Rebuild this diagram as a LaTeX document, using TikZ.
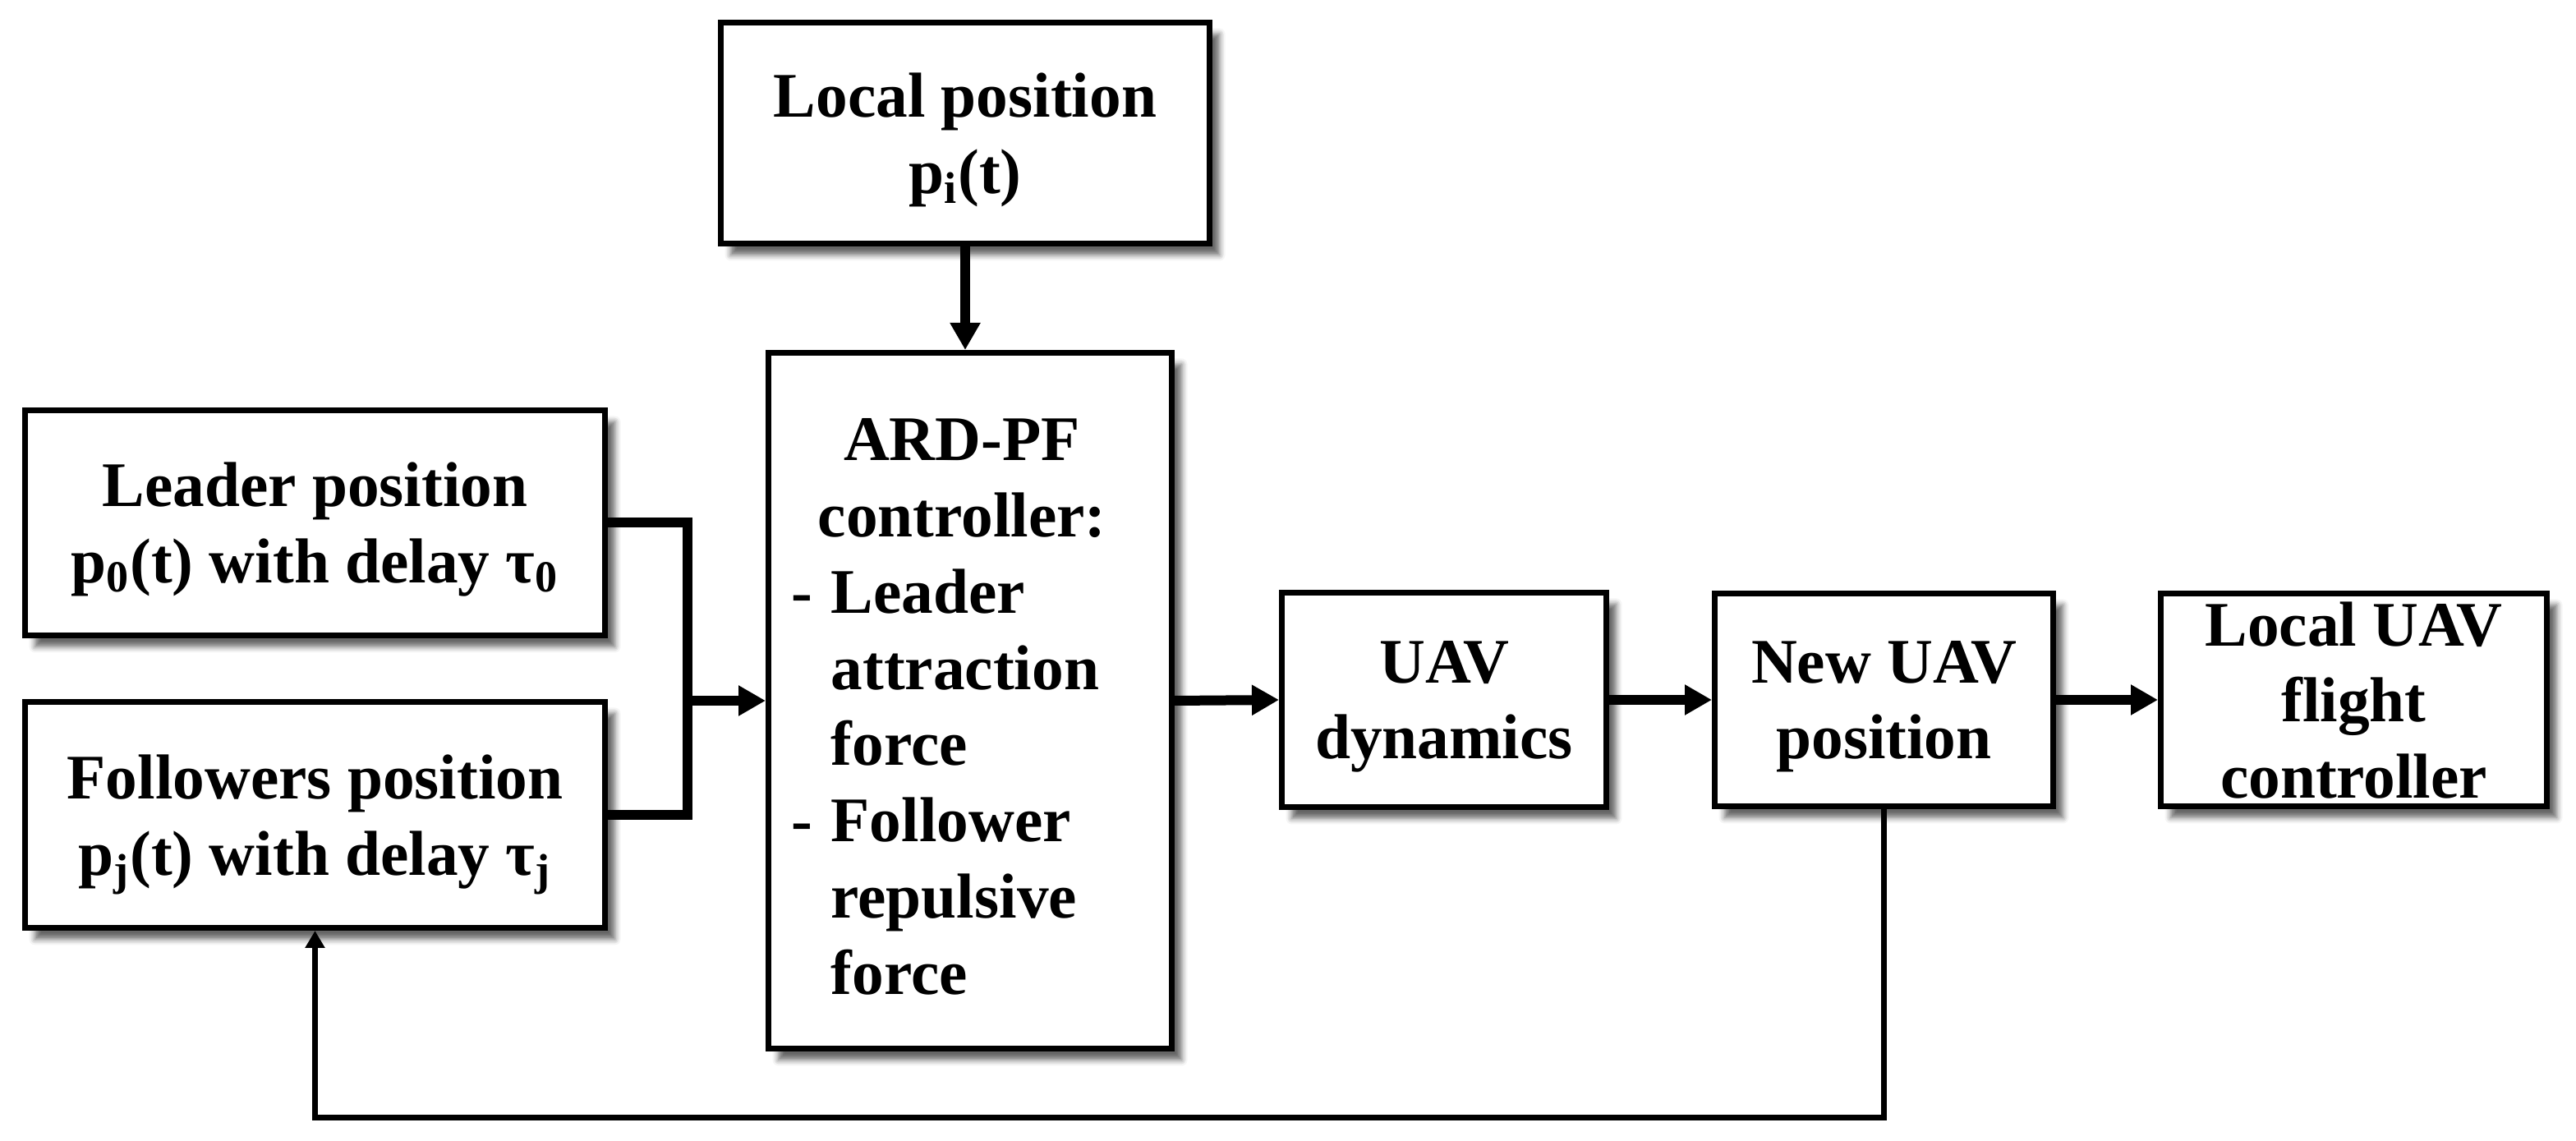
\documentclass[tikz,border=0pt]{standalone}
\usepackage{fontspec}
\setmainfont{Liberation Serif}
\usepackage{tikz}
\usetikzlibrary{arrows.meta,shadows.blur}

\begin{document}
\begin{tikzpicture}[font=\fontsize{22}{26.4}\selectfont\bfseries, block/.style={rectangle, draw, line width=0.07cm, fill=white, align=center, inner sep=0.05cm, text depth=0pt, blur shadow={shadow xshift=0.12cm, shadow yshift=-0.14cm, shadow blur radius=0.07cm, shadow opacity=60}}, thickarrow/.style={line width=0.12cm, -{Triangle[length=0.33cm, width=0.35cm]}}, fbarrow/.style={line width=0.07cm, -{Triangle[length=0.21cm, width=0.23cm]}}]
  \useasboundingbox (0,0) rectangle (31.36,13.89);
  \node[block, minimum width=5.95cm, minimum height=2.69cm] (local) at (11.75,12.27) {Local position\\p\textsubscript{i}(t)};
  \node[block, minimum width=4.91cm, minimum height=8.47cm] (ardpf) at (11.81,5.36) {\begin{tabular}[b]{@{}l@{\hspace{0.22cm}}l@{\hspace{0.6cm}}}
    \multicolumn{2}{@{}c@{\hspace{0.2cm}}}{ARD-PF}\\
    \multicolumn{2}{@{}c@{\hspace{0.2cm}}}{controller:}\\
    - & Leader\\ & attraction\\ & force\\
    - & Follower\\ & repulsive\\ & force
  \end{tabular}};
  \node[block, minimum width=7.06cm, minimum height=2.74cm] (leader) at (3.835,7.525) {Leader position\\p\textsubscript{0}(t) with delay τ\textsubscript{0}};
  \node[block, minimum width=7.06cm, minimum height=2.75cm] (follow) at (3.835,3.97) {Followers position\\p\textsubscript{j}(t) with delay τ\textsubscript{j}};
  \node[block, minimum width=3.95cm, minimum height=2.61cm] (uavdyn) at (17.58,5.37) {UAV\\dynamics};
  \node[block, minimum width=4.12cm, minimum height=2.59cm] (newpos) at (22.935,5.37) {New UAV\\position};
  \node[block, minimum width=4.70cm, minimum height=2.59cm] (flightctl) at (28.655,5.37) {Local UAV\\flight\\controller};
  \coordinate (merge) at (8.37,5.36);
  \coordinate (fbline) at (0,0.28);
  \draw[line width=0.12cm] (leader.east) -| (merge) |- (follow.east);
  \draw[thickarrow] (merge) -- (ardpf.west);
  \draw[thickarrow] (local.south) -- (local.south |- ardpf.north);
  \draw[thickarrow] (ardpf.east) -- (uavdyn.west);
  \draw[thickarrow] (uavdyn.east) -- (newpos.west);
  \draw[thickarrow] (newpos.east) -- (flightctl.west);
  \draw[fbarrow] (newpos.south) -- (newpos.south |- fbline) -| (follow.south);
\end{tikzpicture}
\end{document}
